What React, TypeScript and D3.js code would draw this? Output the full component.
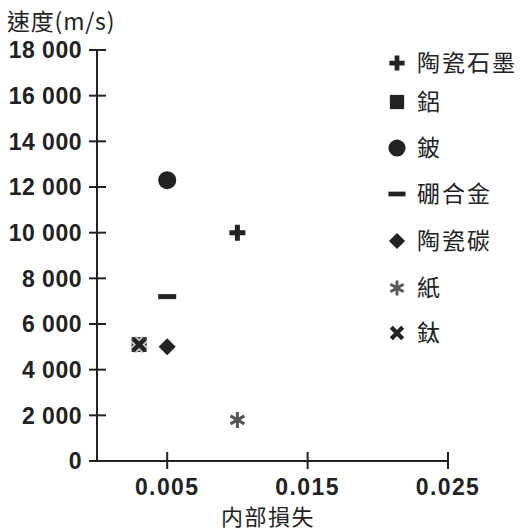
import React from "react";
import * as d3 from "d3";

const materials = ["陶瓷石墨", "鋁", "鈹", "硼合金", "陶瓷碳", "紙", "鈦"];
const shapes = ["plus", "square", "circle", "minus", "diamond", "asterisk", "cross"];
const internalLoss = [0.01, 0.003, 0.005, 0.005, 0.005, 0.01, 0.003];
const speed = [10000, 5100, 12300, 7200, 5000, 1800, 5100];
const yTicks = [0, 2000, 4000, 6000, 8000, 10000, 12000, 14000, 16000, 18000];
const xTicks = [0.005, 0.015, 0.025];

const W = 520, H = 532;
const x = d3.scaleLinear().domain([0, 0.025]).range([97, 448]);
const y = d3.scaleLinear().domain([0, 18000]).range([461, 50]);

const ink = "#222";
const numFont = "'Liberation Sans', Arial, sans-serif";
const cjkFont = "'Noto Sans CJK TC', 'Noto Sans CJK JP', sans-serif";

function Marker({ shape, cx, cy, s = 1, halo = false }: { shape: string; cx: number; cy: number; s?: number; halo?: boolean }) {
  const t = `translate(${cx},${cy}) scale(${s})`;
  switch (shape) {
    case "plus":
      return <path transform={t} d="M-8,0H8M0,-8V8" stroke={ink} strokeWidth={5} fill="none" />;
    case "square":
      return <rect transform={t} x={-7.5} y={-7.5} width={15} height={15} fill={ink} />;
    case "circle":
      return <circle transform={t} r={9} fill={ink} />;
    case "minus":
      return <rect transform={t} x={-9} y={-2.5} width={18} height={5} fill={ink} />;
    case "diamond":
      return <path transform={t} d="M0,-8.5L8.5,0L0,8.5L-8.5,0Z" fill={ink} />;
    case "asterisk":
      return (
        <path
          transform={t}
          d={d3.range(3).map((i) => {
            const a = (i * Math.PI) / 3 + Math.PI / 2;
            const dx = 8 * Math.cos(a), dy = 8 * Math.sin(a);
            return `M${-dx},${-dy}L${dx},${dy}`;
          }).join("")}
          stroke="#555"
          strokeWidth={3}
          fill="none"
        />
      );
    case "cross":
      return (
        <g transform={t}>
          {halo && <path d="M-6,-6L6,6M6,-6L-6,6" stroke="#ccc" strokeWidth={8} fill="none" />}
          <path d="M-6,-6L6,6M6,-6L-6,6" stroke={ink} strokeWidth={4.5} fill="none" />
        </g>
      );
    default:
      return null;
  }
}

const legendY = [63, 102, 148, 194, 241, 288, 333];

export default function App() {
  return (
    <svg width={W} height={H} style={{ position: "absolute", left: 0, top: 0, background: "#fff" }}>
      <text x={7} y={30} fontFamily={cjkFont} fontSize={23} letterSpacing={0.8} fill={ink}>速度(m/s)</text>
      <line x1={97} x2={97} y1={y(18000)} y2={y(0)} stroke={ink} strokeWidth={2} />
      <line x1={89} x2={x(0.025)} y1={y(0)} y2={y(0)} stroke={ink} strokeWidth={2} />
      {yTicks.map((v) => (
        <g key={v}>
          {v > 0 && <line x1={89} x2={106} y1={y(v)} y2={y(v)} stroke={ink} strokeWidth={2} />}
          <text
            x={82}
            y={y(v)}
            dy="0.36em"
            textAnchor="end"
            fontFamily={numFont}
            fontWeight="bold"
            fontSize={23}
            letterSpacing={0.5}
            fill={ink}
          >
            {v === 0 ? "0" : d3.format(",")(v).replace(",", " ")}
          </text>
        </g>
      ))}
      {xTicks.map((v) => (
        <g key={v}>
          <line x1={x(v)} x2={x(v)} y1={y(0) - 9} y2={y(0) + 8} stroke={ink} strokeWidth={2} />
          <text
            x={x(v)}
            y={495}
            textAnchor="middle"
            fontFamily={numFont}
            fontWeight="bold"
            fontSize={23}
            letterSpacing={1.4}
            fill={ink}
          >
            {String(v)}
          </text>
        </g>
      ))}
      <text x={268} y={525} textAnchor="middle" fontFamily={cjkFont} fontSize={22} letterSpacing={1.5} fill={ink}>内部損失</text>
      {materials.map((m, i) => (
        <Marker key={m} shape={shapes[i]} cx={x(internalLoss[i])} cy={y(speed[i])} halo />
      ))}
      {materials.map((m, i) => (
        <g key={"l" + m}>
          <Marker shape={shapes[i]} cx={397} cy={legendY[i]} s={0.95} />
          <text x={417} y={legendY[i]} dy="0.36em" fontFamily={cjkFont} fontSize={23} letterSpacing={2} fill={ink}>
            {m}
          </text>
        </g>
      ))}
    </svg>
  );
}
